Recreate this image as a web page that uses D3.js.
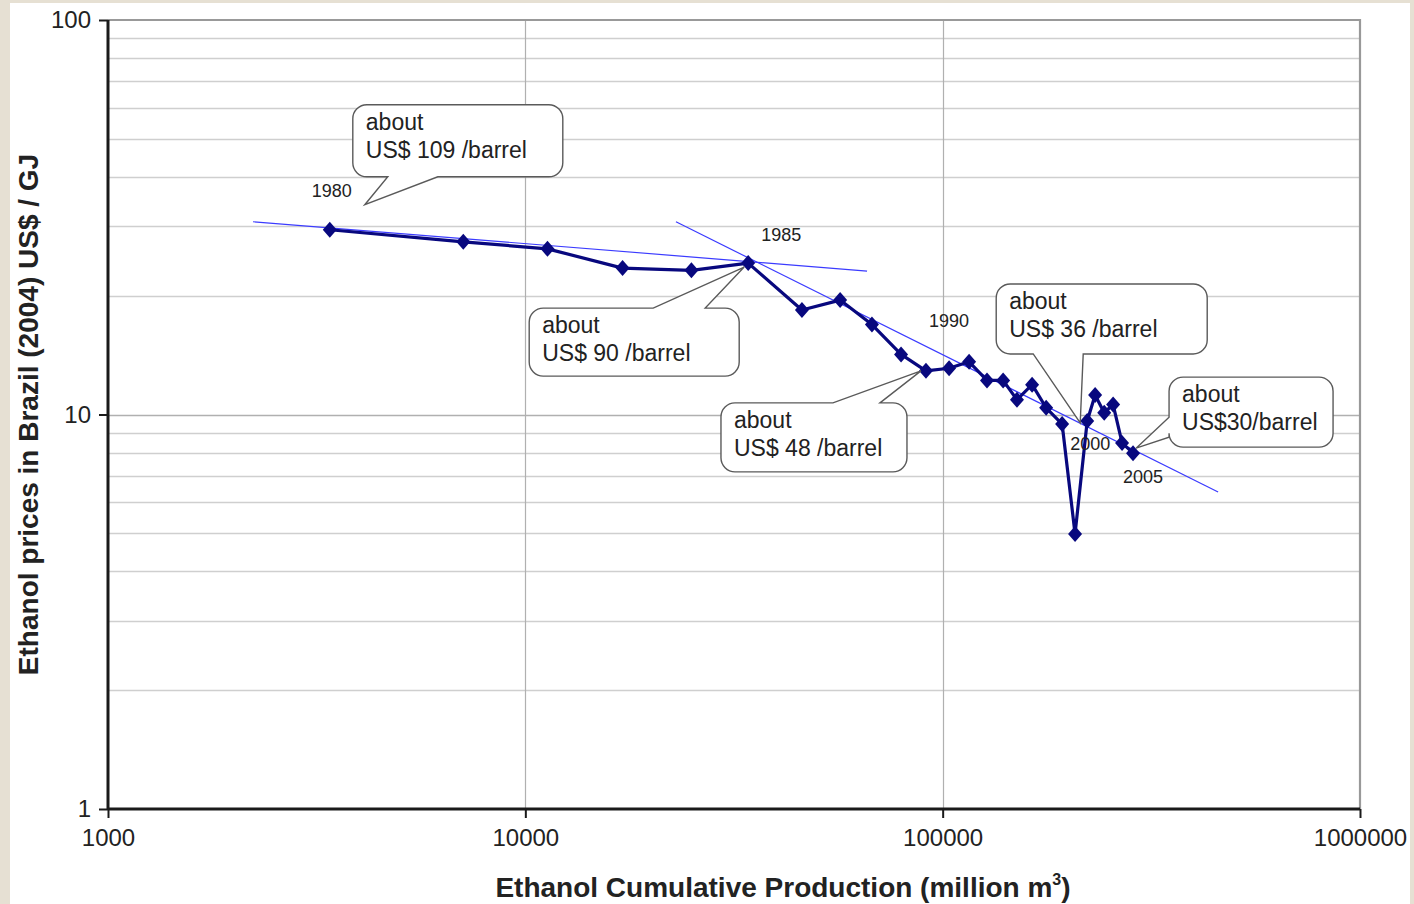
<!DOCTYPE html>
<html>
<head>
<meta charset="utf-8">
<script src="https://cdn.jsdelivr.net/npm/d3@7"></script>
<style>
  html, body { margin: 0; padding: 0; background: #e6e0d3; }
  svg { display: block; }
  text { font-family: "Liberation Sans", Arial, Helvetica, sans-serif; fill: #222; }
</style>
</head>
<body>
<svg id="chart" width="1414" height="904"></svg>
<script>
// ---- data ----
const years = [1980,1981,1982,1983,1984,1985,1986,1987,1988,1989,1990,1991,1992,1993,1994,1995,1996,1997,1998,1999,2000,2001,2002,2003,2004,2005];
// cumulative production, million m3
const cumulativeProduction = [3400,7100,11300,17100,25000,34200,46000,56800,67700,79500,91200,103600,115700,127700,139600,150700,163800,177000,193300,207600,222000,231900,243800,256100,269100,285900];
// ethanol price, 2004 US$/GJ
const price = [29.4,27.4,26.3,23.5,23.2,24.2,18.4,19.5,16.9,14.2,12.9,13.1,13.6,12.2,12.2,10.9,11.9,10.4,9.46,4.98,9.63,11.2,10.1,10.6,8.47,7.98];
// fitted learning-curve trend lines (endpoints in data units)
const trend1X = [2226, 65900];
const trend1Y = [30.8, 23.1];
const trend2X = [22960, 457100];
const trend2Y = [30.8, 6.36];
// tick labels
const xTicks = [1000, 10000, 100000, 1000000];
const yTicks = [1, 10, 100];
const yMinorTicks = [2,3,4,5,6,7,8,9,20,30,40,50,60,70,80,90];
// labelled years and callouts
const labelYears = [1980, 1985, 1990, 2000, 2005];
const calloutYears = [1980, 1985, 1990, 2000, 2005];
const calloutText = [
  ["about", "US$ 109 /barrel"],
  ["about", "US$ 90 /barrel"],
  ["about", "US$ 48 /barrel"],
  ["about", "US$ 36 /barrel"],
  ["about", "US$30/barrel"]
];
const xTitle = "Ethanol Cumulative Production (million m";
const yTitle = "Ethanol prices in Brazil (2004) US$ / GJ";

// ---- layout (pixels) ----
const L = 108, R = 1360, T = 20, B = 809;
const svg = d3.select("#chart");

const x = d3.scaleLog().domain([1000, 1000000]).range([L, R]);
const y = d3.scaleLog().domain([1, 100]).range([B, T]);

// backgrounds
svg.append("rect").attr("x", 0).attr("y", 0).attr("width", 1414).attr("height", 904).attr("fill", "#e6e0d3");
svg.append("rect").attr("x", 10).attr("y", 3).attr("width", 1400).attr("height", 901).attr("fill", "#ffffff");

// grid
const grid = svg.append("g");
grid.selectAll("line.minor").data(yMinorTicks).join("line")
  .attr("x1", L).attr("x2", R)
  .attr("y1", d => Math.round(y(d)) + 0.5).attr("y2", d => Math.round(y(d)) + 0.5)
  .attr("stroke", "#cfcfcf").attr("stroke-width", 1.3);
grid.selectAll("line.hmaj").data([10]).join("line")
  .attr("x1", L).attr("x2", R)
  .attr("y1", d => Math.round(y(d)) + 0.5).attr("y2", d => Math.round(y(d)) + 0.5)
  .attr("stroke", "#b0b0b0").attr("stroke-width", 1.3);
grid.selectAll("line.vmaj").data([10000, 100000]).join("line")
  .attr("y1", T).attr("y2", B)
  .attr("x1", d => Math.round(x(d)) + 0.5).attr("x2", d => Math.round(x(d)) + 0.5)
  .attr("stroke", "#b0b0b0").attr("stroke-width", 1.2);

// top/right frame
svg.append("path")
  .attr("d", `M${L},${T} H${R} V${B}`)
  .attr("fill", "none").attr("stroke", "#999").attr("stroke-width", 2.2);

// axes
const xAxis = d3.axisBottom(x).tickValues(xTicks).tickFormat(d3.format("d")).tickSize(9).tickPadding(8);
const yAxis = d3.axisLeft(y).tickValues(yTicks).tickFormat(d3.format("d")).tickSize(9).tickPadding(8);

const gx = svg.append("g").attr("transform", `translate(0,${B})`).call(xAxis);
const gy = svg.append("g").attr("transform", `translate(${L},0)`).call(yAxis);
[gx, gy].forEach(g => {
  g.select(".domain").attr("stroke", "#1a1a1a").attr("stroke-width", 3);
  g.selectAll(".tick line").attr("stroke", "#1a1a1a").attr("stroke-width", 2);
  g.selectAll(".tick text").attr("font-size", 24).attr("fill", "#2a2a2a")
    .attr("font-family", "'Liberation Sans', Arial, sans-serif");
});
gx.select(".domain").attr("d", `M${L},0H${R}`);
gy.select(".domain").attr("d", `M0,${B}V${T}`);
gx.selectAll(".tick text").attr("dy", "0.85em");

// trend lines
const tl = d3.line().x(d => x(d[0])).y(d => y(d[1]));
svg.append("path").datum(d3.zip(trend1X, trend1Y)).attr("d", tl)
  .attr("fill", "none").attr("stroke", "#3b3bff").attr("stroke-width", 1.2);
svg.append("path").datum(d3.zip(trend2X, trend2Y)).attr("d", tl)
  .attr("fill", "none").attr("stroke", "#3b3bff").attr("stroke-width", 1.2);

// data line
const pts = d3.zip(cumulativeProduction, price);
svg.append("path").datum(pts).attr("d", tl)
  .attr("fill", "none").attr("stroke", "#08087e").attr("stroke-width", 3.2).attr("stroke-linejoin", "round");

// diamond markers
const diamond = { draw(ctx, size) { const w = 7, h = 8; ctx.moveTo(0, -h); ctx.lineTo(w, 0); ctx.lineTo(0, h); ctx.lineTo(-w, 0); ctx.closePath(); } };
svg.append("g").selectAll("path").data(pts).join("path")
  .attr("transform", d => `translate(${x(d[0])},${y(d[1])})`)
  .attr("d", d3.symbol().type(diamond)())
  .attr("fill", "#08087e");

// helpers
function pointOf(year) { const i = years.indexOf(year); return [x(cumulativeProduction[i]), y(price[i])]; }

// year labels (offsets from their point)
const labelOffsets = [[2, -33], [33, -22], [23, -44], [3, 29], [10, 30]];
svg.append("g").selectAll("text").data(labelYears).join("text")
  .attr("x", (d, i) => pointOf(d)[0] + labelOffsets[i][0])
  .attr("y", (d, i) => pointOf(d)[1] + labelOffsets[i][1])
  .attr("text-anchor", "middle").attr("font-size", 18).attr("fill", "#222")
  .text(d => d);

// callouts: box and tail positions relative to the pointed data point
// [tipdx, tipdy, bx0, by0, bx1, by1, side, a, b]
const calloutLayout = [
  [35, -25, 23, -125, 233, -53, "bottom", 58, 108],
  [-4, 4, -219, 45, -9, 113, "top", -95, -43],
  [-5, 0, -205, 32, -19, 101, "top", -93, -46],
  [-7, 2, -91, -137, 120, -67, "bottom", -54, -4],
  [3, -5, 36, -76, 200, -6, "left", -36, -16]
];
function calloutPath(x0, y0, x1, y1, r, side, a, b, tx, ty) {
  let p = `M${x0 + r},${y0}`;
  if (side === "top") p += `L${a},${y0}L${tx},${ty}L${b},${y0}`;
  p += `L${x1 - r},${y0}A${r},${r} 0 0 1 ${x1},${y0 + r}`;
  p += `L${x1},${y1 - r}A${r},${r} 0 0 1 ${x1 - r},${y1}`;
  if (side === "bottom") p += `L${b},${y1}L${tx},${ty}L${a},${y1}`;
  p += `L${x0 + r},${y1}A${r},${r} 0 0 1 ${x0},${y1 - r}`;
  if (side === "left") p += `L${x0},${b}L${tx},${ty}L${x0},${a}`;
  p += `L${x0},${y0 + r}A${r},${r} 0 0 1 ${x0 + r},${y0}Z`;
  return p;
}
const cg = svg.append("g");
calloutYears.forEach((yr, i) => {
  const [px, py] = pointOf(yr);
  const c = calloutLayout[i];
  const x0 = px + c[2], y0 = py + c[3], x1 = px + c[4], y1 = py + c[5];
  const isX = c[6] !== "left";
  const a = (isX ? px : py) + c[7], b = (isX ? px : py) + c[8];
  cg.append("path")
    .attr("d", calloutPath(x0, y0, x1, y1, 14, c[6], a, b, px + c[0], py + c[1]))
    .attr("fill", "#fff").attr("stroke", "#5a5a5a").attr("stroke-width", 1.4);
  const t = cg.append("text").attr("font-size", 23).attr("fill", "#333");
  calloutText[i].forEach((line, j) => {
    t.append("tspan").attr("x", x0 + 13).attr("y", y0 + 25 + j * 28).text(line);
  });
});

// axis titles
const xt = svg.append("text").attr("x", (L + R) / 2 + 49).attr("y", 897)
  .attr("text-anchor", "middle").attr("font-size", 28).attr("font-weight", "bold").attr("fill", "#222");
xt.append("tspan").text(xTitle);
xt.append("tspan").attr("font-size", 16).attr("dy", -12).text("3");
xt.append("tspan").attr("dy", 12).text(")");

svg.append("text").attr("transform", `translate(38,${(T + B) / 2}) rotate(-90)`)
  .attr("text-anchor", "middle").attr("font-size", 28).attr("font-weight", "bold").attr("fill", "#222")
  .text(yTitle);
</script>
</body>
</html>
